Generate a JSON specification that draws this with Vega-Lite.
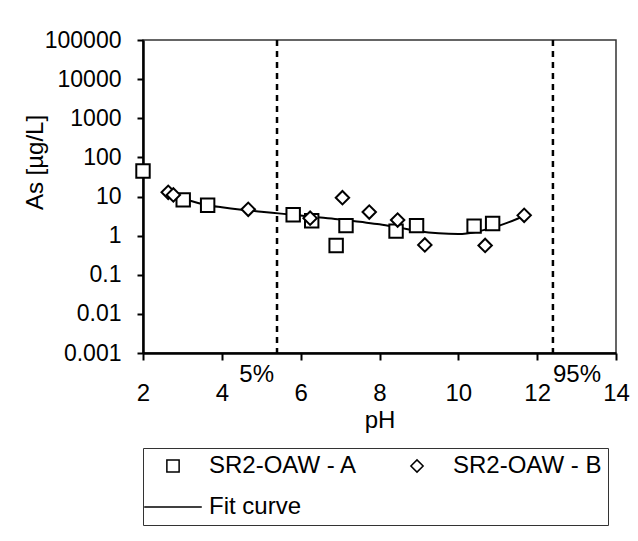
{
  "$schema": "https://vega.github.io/schema/vega-lite/v6.json",
  "width": 473,
  "height": 313,
  "autosize": "none",
  "padding": {"left": 143, "top": 40, "right": 22, "bottom": 188},
  "background": "white",
  "config": {
    "font": "Liberation Sans",
    "view": {"stroke": "#333", "strokeWidth": 1.5},
    "point": {"opacity": 1},
    "axis": {"labelFont": "Liberation Sans", "titleFont": "Liberation Sans", "labelColor": "black", "titleColor": "black", "titleFontWeight": "normal", "domainColor": "black", "tickColor": "black", "grid": false}
  },
  "datasets": {
    "pts": [
      {"pH": 2.0, "As": 45, "series": "SR2-OAW - A"},
      {"pH": 3.02, "As": 8.2, "series": "SR2-OAW - A"},
      {"pH": 3.64, "As": 6.0, "series": "SR2-OAW - A"},
      {"pH": 5.81, "As": 3.4, "series": "SR2-OAW - A"},
      {"pH": 6.28, "As": 2.4, "series": "SR2-OAW - A"},
      {"pH": 6.9, "As": 0.56, "series": "SR2-OAW - A"},
      {"pH": 7.15, "As": 1.8, "series": "SR2-OAW - A"},
      {"pH": 8.42, "As": 1.3, "series": "SR2-OAW - A"},
      {"pH": 8.94, "As": 1.8, "series": "SR2-OAW - A"},
      {"pH": 10.4, "As": 1.75, "series": "SR2-OAW - A"},
      {"pH": 10.87, "As": 2.05, "series": "SR2-OAW - A"},
      {"pH": 2.64, "As": 12.8, "series": "SR2-OAW - B"},
      {"pH": 2.77, "As": 11, "series": "SR2-OAW - B"},
      {"pH": 4.67, "As": 4.7, "series": "SR2-OAW - B"},
      {"pH": 6.24, "As": 2.8, "series": "SR2-OAW - B"},
      {"pH": 7.06, "As": 9.3, "series": "SR2-OAW - B"},
      {"pH": 7.74, "As": 4.0, "series": "SR2-OAW - B"},
      {"pH": 8.46, "As": 2.5, "series": "SR2-OAW - B"},
      {"pH": 9.15, "As": 0.58, "series": "SR2-OAW - B"},
      {"pH": 10.68, "As": 0.56, "series": "SR2-OAW - B"},
      {"pH": 11.67, "As": 3.3, "series": "SR2-OAW - B"}
    ],
    "fit": [
      {"pH": 2.7, "As": 12.5},
      {"pH": 2.9, "As": 10},
      {"pH": 3.2, "As": 7.8},
      {"pH": 3.6, "As": 6.1},
      {"pH": 4.0, "As": 5.3},
      {"pH": 4.5, "As": 4.6},
      {"pH": 5.0, "As": 4.1},
      {"pH": 5.5, "As": 3.65},
      {"pH": 6.0, "As": 3.25},
      {"pH": 6.5, "As": 2.9},
      {"pH": 7.0, "As": 2.6},
      {"pH": 7.5, "As": 2.25},
      {"pH": 8.0, "As": 1.95},
      {"pH": 8.5, "As": 1.6},
      {"pH": 9.0, "As": 1.3},
      {"pH": 9.5, "As": 1.15},
      {"pH": 10.0, "As": 1.1},
      {"pH": 10.5, "As": 1.28},
      {"pH": 11.0, "As": 1.75},
      {"pH": 11.5, "As": 2.7},
      {"pH": 11.7, "As": 3.3}
    ],
    "cut": [
      {"pH": 5.4, "label": "5%"},
      {"pH": 12.4, "label": "95%"}
    ]
  },
  "layer": [
    {
      "data": {"name": "cut"},
      "mark": {"type": "rule", "strokeDash": [6, 5], "strokeWidth": 2.5, "color": "black"},
      "encoding": {
        "x": {"field": "pH", "type": "quantitative", "title": "pH", "scale": {"domain": [2, 14], "nice": false, "zero": false}}
      }
    },
    {
      "data": {"name": "fit"},
      "mark": {"type": "line", "color": "black", "strokeWidth": 2, "interpolate": "monotone"},
      "encoding": {
        "x": {"field": "pH", "type": "quantitative", "title": "pH", "scale": {"domain": [2, 14], "nice": false, "zero": false}},
        "y": {"field": "As", "type": "quantitative", "title": "As [µg/L]", "scale": {"type": "log", "domain": [0.001, 100000], "nice": false}}
      }
    },
    {
      "data": {"name": "pts"},
      "mark": {"type": "point", "filled": true, "fill": "white", "stroke": "black", "strokeWidth": 2, "size": 180},
      "encoding": {
        "x": {
          "field": "pH", "type": "quantitative", "title": "pH",
          "scale": {"domain": [2, 14], "nice": false, "zero": false},
          "axis": {"title": "pH", "values": [2, 4, 6, 8, 10, 12, 14], "tickSize": 7, "tickWidth": 2, "domainWidth": 2.5, "labelFontSize": 24, "labelPadding": 21, "titleFontSize": 24, "titlePadding": 3, "labelFlush": false, "labelOverlap": false}
        },
        "y": {
          "field": "As", "type": "quantitative", "title": "As [µg/L]",
          "scale": {"type": "log", "domain": [0.001, 100000], "nice": false},
          "axis": {
            "title": "As [µg/L]",
            "values": [0.001, 0.01, 0.1, 1, 10, 100, 1000, 10000, 100000],
            "format": "~g",
            "tickSize": 6, "tickWidth": 2, "domainWidth": 2.5,
            "labelFontSize": 23, "labelPadding": 16, "labelOverlap": false, "labelFlush": false,
            "titleFontSize": 24, "titleX": -108, "titleY": 122, "titleAlign": "center", "titleBaseline": "middle", "titleAngle": 270
          }
        },
        "shape": {
          "field": "series", "type": "nominal",
          "scale": {"domain": ["SR2-OAW - A", "SR2-OAW - B", "Fit curve"], "range": ["square", "diamond", "M-4.7,0H4.7"]},
          "legend": {
            "orient": "none", "legendX": 0, "legendY": 408,
            "direction": "horizontal", "columns": 2, "title": null,
            "strokeColor": "#333", "padding": 6,
            "symbolSize": 150,
            "labelFontSize": 24, "labelColor": "black", "labelFont": "Liberation Sans", "labelOffset": 24, "symbolOffset": 12,
            "rowPadding": 17, "columnPadding": 35, "labelLimit": 400
          }
        }
      }
    },
    {
      "data": {"name": "cut"},
      "transform": [{"filter": "datum.label == '5%'"}],
      "mark": {"type": "text", "align": "right", "baseline": "top", "dx": -3, "dy": 10, "fontSize": 24, "font": "Liberation Sans", "color": "black"},
      "encoding": {
        "x": {"field": "pH", "type": "quantitative", "title": "pH", "scale": {"domain": [2, 14], "nice": false, "zero": false}},
        "y": {"datum": 0.001, "type": "quantitative", "title": "As [µg/L]", "scale": {"type": "log", "domain": [0.001, 100000], "nice": false}},
        "text": {"field": "label"}
      }
    },
    {
      "data": {"name": "cut"},
      "transform": [{"filter": "datum.label == '95%'"}],
      "mark": {"type": "text", "align": "left", "baseline": "top", "dx": 0, "dy": 10, "fontSize": 24, "font": "Liberation Sans", "color": "black"},
      "encoding": {
        "x": {"field": "pH", "type": "quantitative", "title": "pH", "scale": {"domain": [2, 14], "nice": false, "zero": false}},
        "y": {"datum": 0.001, "type": "quantitative", "title": "As [µg/L]", "scale": {"type": "log", "domain": [0.001, 100000], "nice": false}},
        "text": {"field": "label"}
      }
    }
  ]
}
